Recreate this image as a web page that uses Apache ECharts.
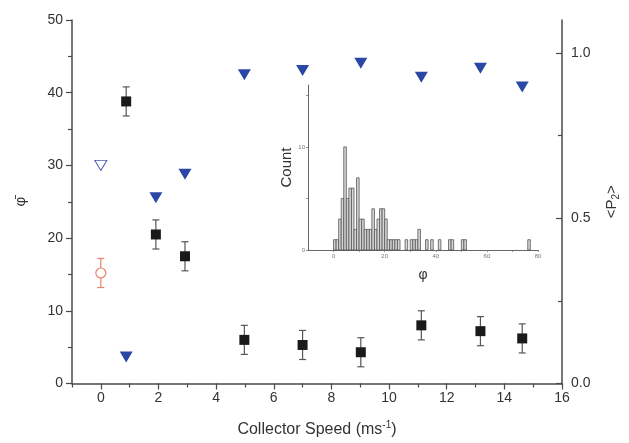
<!DOCTYPE html>
<html>
<head>
<meta charset="utf-8">
<script src="https://cdn.jsdelivr.net/npm/echarts@6/dist/echarts.min.js"></script>
<style>
html, body { margin: 0; padding: 0; background: #fff; }
#chart { width: 629px; height: 443px; }
</style>
</head>
<body>
<div id="chart"></div>
<script>
//---- main panel ----
var speed   = [0.88, 1.91, 2.92, 4.98, 7.0, 9.02, 11.12, 13.17, 14.62];
var phiMean = [38.8, 20.5, 17.5, 6.0, 5.3, 4.3, 8.0, 7.2, 6.2];
var phiErr  = [2.0, 2.0, 2.0, 2.0, 2.0, 2.0, 2.0, 2.0, 2.0];
var p2      = [0.08, 0.562, 0.633, 0.934, 0.947, 0.969, 0.927, 0.954, 0.897];
// reference points at speed 0
var refSpeed = [0];
var refPhi   = [15.2];
var refErr   = [2.0];
var refTri   = [30];

//---- inset histogram (bin width 1) ----
var binWidth = 1;
var binStart = [0, 1, 2, 3, 4, 5, 6, 7, 8, 9, 10, 11, 12, 13, 14, 15, 16, 17, 18, 19, 20,
                21, 22, 23, 24, 25, 28, 30, 31, 32, 33, 36, 38, 41, 45, 46, 50, 51, 76];
var binCount = [1, 1, 3, 5, 10, 5, 6, 6, 2, 7, 3, 3, 2, 2, 2, 4, 2, 3, 4, 4, 3,
                1, 1, 1, 1, 1, 1, 1, 1, 1, 2, 1, 1, 1, 1, 1, 1, 1, 1];

// tick labels
var xMajor = [0, 2, 4, 6, 8, 10, 12, 14, 16];
var xMinor = [-1, 1, 3, 5, 7, 9, 11, 13, 15];
var p2Major = [0, 0.5, 1.0];
var p2Minor = [0.25, 0.75];
var insetXTicks = [0, 10, 20, 30, 40, 50, 60, 70, 80];
var insetXLabels = [0, 20, 40, 60, 80];
var insetYTicks = [0, 5, 10, 15];
var insetYLabels = [0, 10];

var axisCol = '#4a4a4a';
var textCol = '#333';

function errRender(color) {
    return function (params, api) {
        var x = api.value(0), y = api.value(1), e = api.value(2);
        var top = api.coord([x, y + e]);
        var bot = api.coord([x, y - e]);
        var hw = 3.5;
        var st = { stroke: color, lineWidth: 1.2 };
        return {
            type: 'group',
            children: [
                { type: 'line', shape: { x1: top[0], y1: top[1], x2: bot[0], y2: bot[1] }, style: st },
                { type: 'line', shape: { x1: top[0] - hw, y1: top[1], x2: top[0] + hw, y2: top[1] }, style: st },
                { type: 'line', shape: { x1: bot[0] - hw, y1: bot[1], x2: bot[0] + hw, y2: bot[1] }, style: st }
            ]
        };
    };
}

var chart = echarts.init(document.getElementById('chart'));

var option = {
    animation: false,
    backgroundColor: '#fff',
    textStyle: { fontFamily: 'Liberation Sans, Arial, sans-serif' },
    grid: [
        { left: 72, right: 59, top: 20, bottom: 58 },
        { left: 308, right: 91, top: 85, bottom: 193 }
    ],
    xAxis: [{
        gridIndex: 0, type: 'value', position: 'bottom', min: -1, max: 16,
        name: 'Collector Speed (ms{sup|-1})',
        nameLocation: 'middle', nameGap: 37,
        nameTextStyle: {
            fontSize: 16, color: textCol,
            rich: { sup: { fontSize: 10, color: textCol, verticalAlign: 'top', padding: [0, 0, 9, 0] } }
        },
        axisLine: { show: true, onZero: false, lineStyle: { color: axisCol, width: 1.5 } },
        axisTick: { show: true, customValues: xMajor, length: 6, lineStyle: { color: axisCol, width: 1.2 } },
        axisLabel: { customValues: xMajor, fontSize: 14, color: textCol, margin: 8 },
        splitLine: { show: false }
    }, {
        gridIndex: 0, type: 'value', position: 'bottom', min: -1, max: 16,
        axisLine: { show: false, onZero: false },
        axisTick: { show: true, customValues: xMinor, length: 4, lineStyle: { color: axisCol, width: 1.2 } },
        axisLabel: { show: false },
        splitLine: { show: false }
    }, {
        gridIndex: 1, type: 'value', position: 'bottom', min: -10, max: 80,
        name: 'φ', nameLocation: 'middle', nameGap: 18,
        nameTextStyle: { fontSize: 14, color: textCol },
        axisLine: { show: true, onZero: false, lineStyle: { color: '#666', width: 1 } },
        axisTick: { show: true, customValues: insetXTicks, length: 2, lineStyle: { color: '#777', width: 0.8 } },
        axisLabel: { customValues: insetXLabels, fontSize: 6, color: '#777', margin: 3 },
        splitLine: { show: false }
    }],
    yAxis: [{
        gridIndex: 0, type: 'value', position: 'left', min: 0, max: 50, interval: 10,
        name: 'φ\u0304', nameLocation: 'middle', nameGap: 44,
        nameTextStyle: { fontSize: 15, color: textCol },
        axisLine: { show: true, onZero: false, lineStyle: { color: axisCol, width: 1.5 } },
        axisTick: { show: true, length: 6, lineStyle: { color: axisCol, width: 1.2 } },
        minorTick: { show: true, splitNumber: 2, length: 4, lineStyle: { color: axisCol, width: 1.2 } },
        axisLabel: { fontSize: 14, color: textCol, margin: 9 },
        splitLine: { show: false }
    }, {
        gridIndex: 0, type: 'value', position: 'right', min: 0, max: 1.1,
        name: '<P{sub|2}>', nameLocation: 'middle', nameGap: 40,
        nameTextStyle: {
            fontSize: 15, color: textCol,
            rich: { sub: { fontSize: 10, color: textCol, verticalAlign: 'bottom', padding: [9, 0, 0, 0] } }
        },
        axisLine: { show: true, onZero: false, lineStyle: { color: axisCol, width: 1.5 } },
        axisTick: { show: true, inside: true, customValues: p2Major, length: 6, lineStyle: { color: axisCol, width: 1.2 } },
        axisLabel: {
            customValues: p2Major, fontSize: 14, color: textCol, margin: 9,
            formatter: function (v) { return v.toFixed(1); }
        },
        splitLine: { show: false }
    }, {
        gridIndex: 0, type: 'value', position: 'right', min: 0, max: 1.1,
        axisLine: { show: false, onZero: false },
        axisTick: { show: true, inside: true, customValues: p2Minor, length: 4, lineStyle: { color: axisCol, width: 1.2 } },
        axisLabel: { show: false },
        splitLine: { show: false }
    }, {
        gridIndex: 1, type: 'value', position: 'left', min: 0, max: 16,
        name: 'Count', nameLocation: 'middle', nameGap: 14,
        nameTextStyle: { fontSize: 15, color: textCol },
        axisLine: { show: true, onZero: false, lineStyle: { color: '#666', width: 1 } },
        axisTick: { show: true, customValues: insetYTicks, length: 2, lineStyle: { color: '#777', width: 0.8 } },
        axisLabel: { customValues: insetYLabels, fontSize: 6, color: '#777', margin: 3 },
        splitLine: { show: false }
    }],
    series: [{
        type: 'custom', xAxisIndex: 0, yAxisIndex: 0, z: 2,
        renderItem: errRender('#555'),
        data: speed.map(function (s, i) { return [s, phiMean[i], phiErr[i]]; })
    }, {
        type: 'scatter', xAxisIndex: 0, yAxisIndex: 0, z: 3,
        symbol: 'rect', symbolSize: 10,
        itemStyle: { color: '#1a1a1a', opacity: 1 },
        data: speed.map(function (s, i) { return [s, phiMean[i]]; })
    }, {
        type: 'scatter', xAxisIndex: 0, yAxisIndex: 1, z: 3,
        symbol: 'triangle', symbolRotate: 180, symbolSize: [13, 11],
        itemStyle: { color: '#2a47a6', opacity: 1 },
        data: speed.map(function (s, i) { return [s, p2[i]]; })
    }, {
        type: 'custom', xAxisIndex: 0, yAxisIndex: 0, z: 2,
        renderItem: errRender('#e8806f'),
        data: refSpeed.map(function (s, i) { return [s, refPhi[i], refErr[i]]; })
    }, {
        type: 'scatter', xAxisIndex: 0, yAxisIndex: 0, z: 3,
        symbol: 'circle', symbolSize: 10,
        itemStyle: { color: '#fff', borderColor: '#e8806f', borderWidth: 1.2, opacity: 1 },
        data: refSpeed.map(function (s, i) { return [s, refPhi[i]]; })
    }, {
        type: 'scatter', xAxisIndex: 0, yAxisIndex: 0, z: 3,
        symbol: 'triangle', symbolRotate: 180, symbolSize: [12, 10],
        itemStyle: { color: '#fff', borderColor: '#4a5bb5', borderWidth: 1, opacity: 1 },
        data: refSpeed.map(function (s, i) { return [s, refTri[i]]; })
    }, {
        type: 'custom', xAxisIndex: 2, yAxisIndex: 3, z: 2,
        renderItem: function (params, api) {
            var x0 = api.value(0), c = api.value(1);
            var p0 = api.coord([x0, 0]);
            var p1 = api.coord([x0 + binWidth, c]);
            return {
                type: 'rect',
                shape: { x: p0[0], y: p1[1], width: p1[0] - p0[0], height: p0[1] - p1[1] },
                style: { fill: '#d6d6d6', stroke: '#555', lineWidth: 0.8 }
            };
        },
        data: binStart.map(function (b, i) { return [b, binCount[i]]; })
    }]
};

chart.setOption(option);
</script>
</body>
</html>
